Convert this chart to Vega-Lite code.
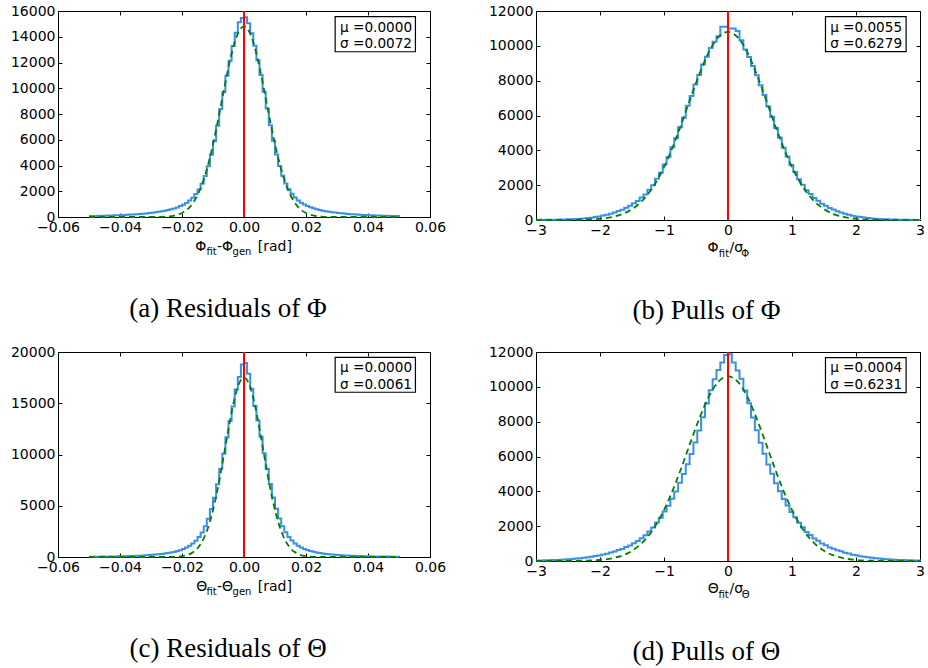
{
"$schema": "https://vega.github.io/schema/vega-lite/v6.json",
"background": "white",
"padding": {"left": 9, "top": 3, "right": 0, "bottom": 0},
"columns": 2,
"spacing": {"row": 19, "column": 40},
"datasets": {
"ha": [{"x":-0.050,"n":70},{"x":-0.049,"n":76},{"x":-0.048,"n":81},{"x":-0.047,"n":88},{"x":-0.046,"n":95},{"x":-0.045,"n":101},{"x":-0.044,"n":110},{"x":-0.043,"n":118},{"x":-0.042,"n":127},{"x":-0.041,"n":137},{"x":-0.040,"n":148},{"x":-0.039,"n":160},{"x":-0.038,"n":172},{"x":-0.037,"n":187},{"x":-0.036,"n":202},{"x":-0.035,"n":219},{"x":-0.034,"n":236},{"x":-0.033,"n":258},{"x":-0.032,"n":281},{"x":-0.031,"n":306},{"x":-0.030,"n":335},{"x":-0.029,"n":366},{"x":-0.028,"n":400},{"x":-0.027,"n":440},{"x":-0.026,"n":486},{"x":-0.025,"n":535},{"x":-0.024,"n":596},{"x":-0.023,"n":665},{"x":-0.022,"n":745},{"x":-0.021,"n":845},{"x":-0.020,"n":955},{"x":-0.019,"n":1095},{"x":-0.018,"n":1275},{"x":-0.017,"n":1490},{"x":-0.016,"n":1790},{"x":-0.015,"n":2140},{"x":-0.014,"n":2590},{"x":-0.013,"n":3190},{"x":-0.012,"n":3940},{"x":-0.011,"n":4840},{"x":-0.010,"n":5880},{"x":-0.009,"n":7080},{"x":-0.008,"n":8380},{"x":-0.007,"n":9680},{"x":-0.006,"n":10980},{"x":-0.005,"n":12130},{"x":-0.004,"n":13280},{"x":-0.003,"n":14320},{"x":-0.002,"n":15120},{"x":-0.001,"n":15450},{"x":0.000,"n":15520},{"x":0.001,"n":15050},{"x":0.002,"n":14280},{"x":0.003,"n":13310},{"x":0.004,"n":12170},{"x":0.005,"n":11020},{"x":0.006,"n":9720},{"x":0.007,"n":8420},{"x":0.008,"n":7120},{"x":0.009,"n":5920},{"x":0.010,"n":4860},{"x":0.011,"n":3960},{"x":0.012,"n":3210},{"x":0.013,"n":2610},{"x":0.014,"n":2160},{"x":0.015,"n":1810},{"x":0.016,"n":1510},{"x":0.017,"n":1290},{"x":0.018,"n":1110},{"x":0.019,"n":965},{"x":0.020,"n":855},{"x":0.021,"n":755},{"x":0.022,"n":675},{"x":0.023,"n":605},{"x":0.024,"n":545},{"x":0.025,"n":494},{"x":0.026,"n":448},{"x":0.027,"n":408},{"x":0.028,"n":373},{"x":0.029,"n":342},{"x":0.030,"n":312},{"x":0.031,"n":287},{"x":0.032,"n":263},{"x":0.033,"n":242},{"x":0.034,"n":223},{"x":0.035,"n":206},{"x":0.036,"n":191},{"x":0.037,"n":176},{"x":0.038,"n":163},{"x":0.039,"n":151},{"x":0.040,"n":140},{"x":0.041,"n":130},{"x":0.042,"n":121},{"x":0.043,"n":112},{"x":0.044,"n":104},{"x":0.045,"n":97},{"x":0.046,"n":90},{"x":0.047,"n":84},{"x":0.048,"n":78},{"x":0.049,"n":73},{"x":0.050,"n":0}],
"ga": [{"x":-0.05,"g":0},{"x":-0.03,"g":2.5},{"x":-0.0275,"g":10},{"x":-0.025,"g":36},{"x":-0.0225,"g":112},{"x":-0.02,"g":312},{"x":-0.01875,"g":498},{"x":-0.0175,"g":772},{"x":-0.01625,"g":1159},{"x":-0.015,"g":1690},{"x":-0.01375,"g":2390},{"x":-0.0125,"g":3278},{"x":-0.01125,"g":4366},{"x":-0.01,"g":5642},{"x":-0.00875,"g":7072},{"x":-0.0075,"g":8604},{"x":-0.00625,"g":10154},{"x":-0.005,"g":11630},{"x":-0.00375,"g":12923},{"x":-0.0025,"g":13934},{"x":-0.00125,"g":14579},{"x":0,"g":14800},{"x":0.00125,"g":14579},{"x":0.0025,"g":13934},{"x":0.00375,"g":12923},{"x":0.005,"g":11630},{"x":0.00625,"g":10154},{"x":0.0075,"g":8604},{"x":0.00875,"g":7072},{"x":0.01,"g":5642},{"x":0.01125,"g":4366},{"x":0.0125,"g":3278},{"x":0.01375,"g":2390},{"x":0.015,"g":1690},{"x":0.01625,"g":1159},{"x":0.0175,"g":772},{"x":0.01875,"g":498},{"x":0.02,"g":312},{"x":0.0225,"g":112},{"x":0.025,"g":36},{"x":0.0275,"g":10},{"x":0.03,"g":2.5},{"x":0.05,"g":0}],
"hb": [{"x":-3.00,"n":6},{"x":-2.94,"n":8},{"x":-2.88,"n":9},{"x":-2.82,"n":12},{"x":-2.76,"n":15},{"x":-2.70,"n":20},{"x":-2.64,"n":24},{"x":-2.58,"n":31},{"x":-2.52,"n":38},{"x":-2.46,"n":49},{"x":-2.40,"n":59},{"x":-2.34,"n":75},{"x":-2.28,"n":90},{"x":-2.22,"n":113},{"x":-2.16,"n":136},{"x":-2.10,"n":170},{"x":-2.04,"n":203},{"x":-1.98,"n":252},{"x":-1.92,"n":297},{"x":-1.86,"n":364},{"x":-1.80,"n":426},{"x":-1.74,"n":515},{"x":-1.68,"n":594},{"x":-1.62,"n":710},{"x":-1.56,"n":812},{"x":-1.50,"n":962},{"x":-1.44,"n":1090},{"x":-1.38,"n":1285},{"x":-1.32,"n":1465},{"x":-1.26,"n":1735},{"x":-1.20,"n":1995},{"x":-1.14,"n":2370},{"x":-1.08,"n":2720},{"x":-1.02,"n":3190},{"x":-0.96,"n":3620},{"x":-0.90,"n":4180},{"x":-0.84,"n":4700},{"x":-0.78,"n":5330},{"x":-0.72,"n":5870},{"x":-0.66,"n":6560},{"x":-0.60,"n":7120},{"x":-0.54,"n":7780},{"x":-0.48,"n":8330},{"x":-0.42,"n":8930},{"x":-0.36,"n":9380},{"x":-0.30,"n":9880},{"x":-0.24,"n":10230},{"x":-0.18,"n":10550},{"x":-0.12,"n":11100},{"x":-0.06,"n":11100},{"x":0.00,"n":11000},{"x":0.06,"n":10990},{"x":0.12,"n":10850},{"x":0.18,"n":10320},{"x":0.24,"n":9790},{"x":0.30,"n":9360},{"x":0.36,"n":8840},{"x":0.42,"n":8310},{"x":0.48,"n":7730},{"x":0.54,"n":7170},{"x":0.60,"n":6510},{"x":0.66,"n":5920},{"x":0.72,"n":5280},{"x":0.78,"n":4740},{"x":0.84,"n":4150},{"x":0.90,"n":3650},{"x":0.96,"n":3160},{"x":1.02,"n":2750},{"x":1.08,"n":2340},{"x":1.14,"n":2020},{"x":1.20,"n":1710},{"x":1.26,"n":1490},{"x":1.32,"n":1260},{"x":1.38,"n":1110},{"x":1.44,"n":940},{"x":1.50,"n":825},{"x":1.56,"n":695},{"x":1.62,"n":605},{"x":1.68,"n":505},{"x":1.74,"n":435},{"x":1.80,"n":355},{"x":1.86,"n":302},{"x":1.92,"n":248},{"x":1.98,"n":207},{"x":2.04,"n":166},{"x":2.10,"n":139},{"x":2.16,"n":110},{"x":2.22,"n":92},{"x":2.28,"n":73},{"x":2.34,"n":61},{"x":2.40,"n":47},{"x":2.46,"n":40},{"x":2.52,"n":30},{"x":2.58,"n":26},{"x":2.64,"n":19},{"x":2.70,"n":16},{"x":2.76,"n":12},{"x":2.82,"n":10},{"x":2.88,"n":7},{"x":2.94,"n":6},{"x":3.00,"n":0}],
"gb": [{"x":-3,"g":0},{"x":-2.4,"g":7},{"x":-2.25,"g":18},{"x":-2.1,"g":40},{"x":-1.95,"g":87},{"x":-1.8,"g":177},{"x":-1.65,"g":342},{"x":-1.5,"g":623},{"x":-1.35,"g":1071},{"x":-1.2,"g":1739},{"x":-1.05,"g":2668},{"x":-0.9,"g":3866},{"x":-0.75,"g":5292},{"x":-0.6,"g":6842},{"x":-0.45,"g":8354},{"x":-0.3,"g":9635},{"x":-0.15,"g":10496},{"x":0,"g":10800},{"x":0.15,"g":10496},{"x":0.3,"g":9635},{"x":0.45,"g":8354},{"x":0.6,"g":6842},{"x":0.75,"g":5292},{"x":0.9,"g":3866},{"x":1.05,"g":2668},{"x":1.2,"g":1739},{"x":1.35,"g":1071},{"x":1.5,"g":623},{"x":1.65,"g":342},{"x":1.8,"g":177},{"x":1.95,"g":87},{"x":2.1,"g":40},{"x":2.25,"g":18},{"x":2.4,"g":7},{"x":3,"g":0}],
"hc": [{"x":-0.050,"n":26},{"x":-0.049,"n":29},{"x":-0.048,"n":33},{"x":-0.047,"n":35},{"x":-0.046,"n":40},{"x":-0.045,"n":43},{"x":-0.044,"n":48},{"x":-0.043,"n":52},{"x":-0.042,"n":58},{"x":-0.041,"n":64},{"x":-0.040,"n":71},{"x":-0.039,"n":79},{"x":-0.038,"n":87},{"x":-0.037,"n":97},{"x":-0.036,"n":108},{"x":-0.035,"n":120},{"x":-0.034,"n":133},{"x":-0.033,"n":149},{"x":-0.032,"n":166},{"x":-0.031,"n":186},{"x":-0.030,"n":208},{"x":-0.029,"n":233},{"x":-0.028,"n":262},{"x":-0.027,"n":297},{"x":-0.026,"n":337},{"x":-0.025,"n":382},{"x":-0.024,"n":436},{"x":-0.023,"n":500},{"x":-0.022,"n":575},{"x":-0.021,"n":665},{"x":-0.020,"n":775},{"x":-0.019,"n":915},{"x":-0.018,"n":1095},{"x":-0.017,"n":1315},{"x":-0.016,"n":1590},{"x":-0.015,"n":1940},{"x":-0.014,"n":2390},{"x":-0.013,"n":2990},{"x":-0.012,"n":3740},{"x":-0.011,"n":4690},{"x":-0.010,"n":5790},{"x":-0.009,"n":7090},{"x":-0.008,"n":8590},{"x":-0.007,"n":10080},{"x":-0.006,"n":11680},{"x":-0.005,"n":13280},{"x":-0.004,"n":14680},{"x":-0.003,"n":16350},{"x":-0.002,"n":17550},{"x":-0.001,"n":18780},{"x":0.000,"n":18920},{"x":0.001,"n":17880},{"x":0.002,"n":16420},{"x":0.003,"n":14720},{"x":0.004,"n":13320},{"x":0.005,"n":11720},{"x":0.006,"n":10120},{"x":0.007,"n":8620},{"x":0.008,"n":7110},{"x":0.009,"n":5810},{"x":0.010,"n":4710},{"x":0.011,"n":3760},{"x":0.012,"n":3010},{"x":0.013,"n":2410},{"x":0.014,"n":1960},{"x":0.015,"n":1610},{"x":0.016,"n":1325},{"x":0.017,"n":1105},{"x":0.018,"n":925},{"x":0.019,"n":785},{"x":0.020,"n":672},{"x":0.021,"n":582},{"x":0.022,"n":507},{"x":0.023,"n":442},{"x":0.024,"n":387},{"x":0.025,"n":342},{"x":0.026,"n":302},{"x":0.027,"n":266},{"x":0.028,"n":236},{"x":0.029,"n":211},{"x":0.030,"n":189},{"x":0.031,"n":169},{"x":0.032,"n":151},{"x":0.033,"n":136},{"x":0.034,"n":122},{"x":0.035,"n":110},{"x":0.036,"n":99},{"x":0.037,"n":89},{"x":0.038,"n":81},{"x":0.039,"n":73},{"x":0.040,"n":66},{"x":0.041,"n":60},{"x":0.042,"n":54},{"x":0.043,"n":49},{"x":0.044,"n":45},{"x":0.045,"n":41},{"x":0.046,"n":37},{"x":0.047,"n":34},{"x":0.048,"n":31},{"x":0.049,"n":28},{"x":0.050,"n":0}],
"gc": [{"x":-0.05,"g":0},{"x":-0.025,"g":4},{"x":-0.0225,"g":20},{"x":-0.02,"g":81},{"x":-0.0175,"g":286},{"x":-0.01625,"g":503},{"x":-0.015,"g":851},{"x":-0.01375,"g":1379},{"x":-0.0125,"g":2144},{"x":-0.01125,"g":3194},{"x":-0.01,"g":4566},{"x":-0.00875,"g":6254},{"x":-0.0075,"g":8220},{"x":-0.00625,"g":10353},{"x":-0.005,"g":12507},{"x":-0.00375,"g":14487},{"x":-0.0025,"g":16090},{"x":-0.00125,"g":17136},{"x":0,"g":17500},{"x":0.00125,"g":17136},{"x":0.0025,"g":16090},{"x":0.00375,"g":14487},{"x":0.005,"g":12507},{"x":0.00625,"g":10353},{"x":0.0075,"g":8220},{"x":0.00875,"g":6254},{"x":0.01,"g":4566},{"x":0.01125,"g":3194},{"x":0.0125,"g":2144},{"x":0.01375,"g":1379},{"x":0.015,"g":851},{"x":0.01625,"g":503},{"x":0.0175,"g":286},{"x":0.02,"g":81},{"x":0.0225,"g":20},{"x":0.025,"g":4},{"x":0.05,"g":0}],
"hd": [{"x":-3.00,"n":28},{"x":-2.94,"n":34},{"x":-2.88,"n":38},{"x":-2.82,"n":46},{"x":-2.76,"n":53},{"x":-2.70,"n":64},{"x":-2.64,"n":73},{"x":-2.58,"n":88},{"x":-2.52,"n":101},{"x":-2.46,"n":121},{"x":-2.40,"n":139},{"x":-2.34,"n":165},{"x":-2.28,"n":185},{"x":-2.22,"n":216},{"x":-2.16,"n":243},{"x":-2.10,"n":284},{"x":-2.04,"n":320},{"x":-1.98,"n":374},{"x":-1.92,"n":422},{"x":-1.86,"n":490},{"x":-1.80,"n":546},{"x":-1.74,"n":626},{"x":-1.68,"n":696},{"x":-1.62,"n":798},{"x":-1.56,"n":890},{"x":-1.50,"n":1020},{"x":-1.44,"n":1145},{"x":-1.38,"n":1310},{"x":-1.32,"n":1475},{"x":-1.26,"n":1690},{"x":-1.20,"n":1920},{"x":-1.14,"n":2210},{"x":-1.08,"n":2490},{"x":-1.02,"n":2840},{"x":-0.96,"n":3170},{"x":-0.90,"n":3580},{"x":-0.84,"n":3990},{"x":-0.78,"n":4490},{"x":-0.72,"n":4990},{"x":-0.66,"n":5560},{"x":-0.60,"n":6140},{"x":-0.54,"n":6810},{"x":-0.48,"n":7490},{"x":-0.42,"n":8260},{"x":-0.36,"n":9040},{"x":-0.30,"n":9810},{"x":-0.24,"n":10440},{"x":-0.18,"n":10960},{"x":-0.12,"n":11390},{"x":-0.06,"n":11830},{"x":0.00,"n":11870},{"x":0.06,"n":11400},{"x":0.12,"n":10940},{"x":0.18,"n":10460},{"x":0.24,"n":9790},{"x":0.30,"n":9060},{"x":0.36,"n":8240},{"x":0.42,"n":7510},{"x":0.48,"n":6790},{"x":0.54,"n":6160},{"x":0.60,"n":5540},{"x":0.66,"n":5010},{"x":0.72,"n":4470},{"x":0.78,"n":4010},{"x":0.84,"n":3560},{"x":0.90,"n":3190},{"x":0.96,"n":2820},{"x":1.02,"n":2510},{"x":1.08,"n":2190},{"x":1.14,"n":1940},{"x":1.20,"n":1670},{"x":1.26,"n":1490},{"x":1.32,"n":1290},{"x":1.38,"n":1160},{"x":1.44,"n":1000},{"x":1.50,"n":900},{"x":1.56,"n":782},{"x":1.62,"n":705},{"x":1.68,"n":614},{"x":1.74,"n":554},{"x":1.80,"n":480},{"x":1.86,"n":428},{"x":1.92,"n":366},{"x":1.98,"n":324},{"x":2.04,"n":278},{"x":2.10,"n":247},{"x":2.16,"n":212},{"x":2.22,"n":189},{"x":2.28,"n":161},{"x":2.34,"n":141},{"x":2.40,"n":118},{"x":2.46,"n":103},{"x":2.52,"n":86},{"x":2.58,"n":75},{"x":2.64,"n":62},{"x":2.70,"n":55},{"x":2.76,"n":45},{"x":2.82,"n":40},{"x":2.88,"n":33},{"x":2.94,"n":30},{"x":3.00,"n":0}],
"gd": [{"x":-3,"g":0},{"x":-2.4,"g":6},{"x":-2.25,"g":16},{"x":-2.1,"g":36},{"x":-1.95,"g":79},{"x":-1.8,"g":163},{"x":-1.65,"g":318},{"x":-1.5,"g":585},{"x":-1.35,"g":1014},{"x":-1.2,"g":1659},{"x":-1.05,"g":2562},{"x":-0.9,"g":3735},{"x":-0.75,"g":5137},{"x":-0.6,"g":6667},{"x":-0.45,"g":8166},{"x":-0.3,"g":9441},{"x":-0.15,"g":10297},{"x":0,"g":10600},{"x":0.15,"g":10297},{"x":0.3,"g":9441},{"x":0.45,"g":8166},{"x":0.6,"g":6667},{"x":0.75,"g":5137},{"x":0.9,"g":3735},{"x":1.05,"g":2562},{"x":1.2,"g":1659},{"x":1.35,"g":1014},{"x":1.5,"g":585},{"x":1.65,"g":318},{"x":1.8,"g":163},{"x":1.95,"g":79},{"x":2.1,"g":36},{"x":2.25,"g":16},{"x":2.4,"g":6},{"x":3,"g":0}]
},
"concat": [
{
"width": 372, "height": 206,
"title": {"text": "(a) Residuals of Φ", "orient": "bottom", "anchor": "middle", "frame": "bounds", "baseline": "alphabetic", "offset": 60},
"layer": [
{"data": {"name": "ha"}, "mark": {"type": "line", "interpolate": "step-after", "color": "#3a8fe6", "strokeWidth": 2},
 "encoding": {
  "x": {"field": "x", "type": "quantitative", "scale": {"domain": [-0.06, 0.06], "nice": false, "zero": false}, "axis": {"orient": "bottom", "values": [-0.06, -0.04, -0.02, 0, 0.02, 0.04, 0.06], "format": ".2f", "title": null}},
  "y": {"field": "n", "type": "quantitative", "scale": {"domain": [0, 16000], "nice": false}, "axis": {"orient": "left", "values": [0, 2000, 4000, 6000, 8000, 10000, 12000, 14000, 16000], "format": "d", "title": null}}}},
{"data": {"name": "ga"}, "mark": {"type": "line", "interpolate": "monotone", "color": "#008000", "strokeWidth": 1.8, "strokeDash": [6, 4]},
 "encoding": {
  "x": {"field": "x", "type": "quantitative", "scale": {"domain": [-0.06, 0.06], "nice": false, "zero": false}, "axis": {"orient": "top", "values": [-0.06, -0.04, -0.02, 0, 0.02, 0.04, 0.06], "labels": false, "title": null}},
  "y": {"field": "g", "type": "quantitative", "scale": {"domain": [0, 16000], "nice": false}, "axis": {"orient": "right", "values": [0, 2000, 4000, 6000, 8000, 10000, 12000, 14000, 16000], "labels": false, "title": null}}}},
{"data": {"values": [{}]}, "mark": {"type": "rule", "color": "#ff0000", "strokeWidth": 2},
 "encoding": {"x": {"datum": 0, "type": "quantitative", "scale": {"domain": [-0.06, 0.06], "nice": false, "zero": false}, "axis": null}}},
{"data": {"values": [{}]}, "mark": {"type": "rect", "fill": "#ffffff", "stroke": "#000000", "strokeWidth": 1.2},
 "encoding": {
  "x": {"datum": 0.0294, "type": "quantitative", "scale": {"domain": [-0.06, 0.06], "nice": false, "zero": false}, "axis": null}, "x2": {"datum": 0.0553},
  "y": {"datum": 15557, "type": "quantitative", "scale": {"domain": [0, 16000], "nice": false}, "axis": null}, "y2": {"datum": 12834}}},
{"data": {"values": [{"t": "μ =0.0000\nσ =0.0072"}]}, "mark": {"type": "text", "align": "left", "baseline": "middle", "lineBreak": "\n", "lineHeight": 16.6, "fontSize": 13.6, "color": "#000000"},
 "encoding": {
  "x": {"datum": 0.031, "type": "quantitative", "scale": {"domain": [-0.06, 0.06], "nice": false, "zero": false}, "axis": null},
  "y": {"datum": 14701, "type": "quantitative", "scale": {"domain": [0, 16000], "nice": false}, "axis": null},
  "text": {"field": "t"}}},
{"data": {"values": [{"t": "Φ", "x": -0.0157}, {"t": "-Φ", "x": -0.0087}, {"t": "[rad]", "x": 0.00446}]}, "mark": {"type": "text", "align": "left", "baseline": "alphabetic", "fontSize": 14, "dy": 34, "color": "#000000"},
 "encoding": {
  "x": {"field": "x", "type": "quantitative", "scale": {"domain": [-0.06, 0.06], "nice": false, "zero": false}, "axis": null},
  "y": {"datum": 0, "type": "quantitative", "scale": {"domain": [0, 16000], "nice": false}, "axis": null},
  "text": {"field": "t"}}},
{"data": {"values": [{"t": "fit", "x": -0.0121}, {"t": "gen", "x": -0.0037}]}, "mark": {"type": "text", "align": "left", "baseline": "alphabetic", "fontSize": 10, "dy": 38, "color": "#000000"},
 "encoding": {
  "x": {"field": "x", "type": "quantitative", "scale": {"domain": [-0.06, 0.06], "nice": false, "zero": false}, "axis": null},
  "y": {"datum": 0, "type": "quantitative", "scale": {"domain": [0, 16000], "nice": false}, "axis": null},
  "text": {"field": "t"}}}
],
"resolve": {"axis": {"x": "independent", "y": "independent"}}
},
{
"width": 384, "height": 209,
"title": {"text": "(b) Pulls of Φ", "orient": "bottom", "anchor": "middle", "frame": "bounds", "baseline": "alphabetic", "offset": 60},
"layer": [
{"data": {"name": "hb"}, "mark": {"type": "line", "interpolate": "step-after", "color": "#3a8fe6", "strokeWidth": 2},
 "encoding": {
  "x": {"field": "x", "type": "quantitative", "scale": {"domain": [-3, 3], "nice": false, "zero": false}, "axis": {"orient": "bottom", "values": [-3, -2, -1, 0, 1, 2, 3], "format": "d", "title": null}},
  "y": {"field": "n", "type": "quantitative", "scale": {"domain": [0, 12000], "nice": false}, "axis": {"orient": "left", "values": [0, 2000, 4000, 6000, 8000, 10000, 12000], "format": "d", "title": null}}}},
{"data": {"name": "gb"}, "mark": {"type": "line", "interpolate": "monotone", "color": "#008000", "strokeWidth": 1.8, "strokeDash": [6, 4]},
 "encoding": {
  "x": {"field": "x", "type": "quantitative", "scale": {"domain": [-3, 3], "nice": false, "zero": false}, "axis": {"orient": "top", "values": [-3, -2, -1, 0, 1, 2, 3], "labels": false, "title": null}},
  "y": {"field": "g", "type": "quantitative", "scale": {"domain": [0, 12000], "nice": false}, "axis": {"orient": "right", "values": [0, 2000, 4000, 6000, 8000, 10000, 12000], "labels": false, "title": null}}}},
{"data": {"values": [{}]}, "mark": {"type": "rule", "color": "#ff0000", "strokeWidth": 2},
 "encoding": {"x": {"datum": 0, "type": "quantitative", "scale": {"domain": [-3, 3], "nice": false, "zero": false}, "axis": null}}},
{"data": {"values": [{}]}, "mark": {"type": "rect", "fill": "#ffffff", "stroke": "#000000", "strokeWidth": 1.2},
 "encoding": {
  "x": {"datum": 1.523, "type": "quantitative", "scale": {"domain": [-3, 3], "nice": false, "zero": false}, "axis": null}, "x2": {"datum": 2.783},
  "y": {"datum": 11673, "type": "quantitative", "scale": {"domain": [0, 12000], "nice": false}, "axis": null}, "y2": {"datum": 9667}}},
{"data": {"values": [{"t": "μ =0.0055\nσ =0.6279"}]}, "mark": {"type": "text", "align": "left", "baseline": "middle", "lineBreak": "\n", "lineHeight": 16.6, "fontSize": 13.6, "color": "#000000"},
 "encoding": {
  "x": {"datum": 1.596, "type": "quantitative", "scale": {"domain": [-3, 3], "nice": false, "zero": false}, "axis": null},
  "y": {"datum": 11043, "type": "quantitative", "scale": {"domain": [0, 12000], "nice": false}, "axis": null},
  "text": {"field": "t"}}},
{"data": {"values": [{"t": "Φ", "x": -0.319}, {"t": "/σ", "x": 0.024}]}, "mark": {"type": "text", "align": "left", "baseline": "alphabetic", "fontSize": 14, "dy": 32, "color": "#000000"},
 "encoding": {
  "x": {"field": "x", "type": "quantitative", "scale": {"domain": [-3, 3], "nice": false, "zero": false}, "axis": null},
  "y": {"datum": 0, "type": "quantitative", "scale": {"domain": [0, 12000], "nice": false}, "axis": null},
  "text": {"field": "t"}}},
{"data": {"values": [{"t": "fit", "x": -0.143}, {"t": "Φ", "x": 0.207}]}, "mark": {"type": "text", "align": "left", "baseline": "alphabetic", "fontSize": 10, "dy": 37, "color": "#000000"},
 "encoding": {
  "x": {"field": "x", "type": "quantitative", "scale": {"domain": [-3, 3], "nice": false, "zero": false}, "axis": null},
  "y": {"datum": 0, "type": "quantitative", "scale": {"domain": [0, 12000], "nice": false}, "axis": null},
  "text": {"field": "t"}}}
],
"resolve": {"axis": {"x": "independent", "y": "independent"}}
},
{
"width": 372, "height": 205,
"title": {"text": "(c) Residuals of Θ", "orient": "bottom", "anchor": "middle", "frame": "bounds", "baseline": "alphabetic", "offset": 60},
"layer": [
{"data": {"name": "hc"}, "mark": {"type": "line", "interpolate": "step-after", "color": "#3a8fe6", "strokeWidth": 2},
 "encoding": {
  "x": {"field": "x", "type": "quantitative", "scale": {"domain": [-0.06, 0.06], "nice": false, "zero": false}, "axis": {"orient": "bottom", "values": [-0.06, -0.04, -0.02, 0, 0.02, 0.04, 0.06], "format": ".2f", "title": null}},
  "y": {"field": "n", "type": "quantitative", "scale": {"domain": [0, 20000], "nice": false}, "axis": {"orient": "left", "values": [0, 5000, 10000, 15000, 20000], "format": "d", "title": null}}}},
{"data": {"name": "gc"}, "mark": {"type": "line", "interpolate": "monotone", "color": "#008000", "strokeWidth": 1.8, "strokeDash": [6, 4]},
 "encoding": {
  "x": {"field": "x", "type": "quantitative", "scale": {"domain": [-0.06, 0.06], "nice": false, "zero": false}, "axis": {"orient": "top", "values": [-0.06, -0.04, -0.02, 0, 0.02, 0.04, 0.06], "labels": false, "title": null}},
  "y": {"field": "g", "type": "quantitative", "scale": {"domain": [0, 20000], "nice": false}, "axis": {"orient": "right", "values": [0, 5000, 10000, 15000, 20000], "labels": false, "title": null}}}},
{"data": {"values": [{}]}, "mark": {"type": "rule", "color": "#ff0000", "strokeWidth": 2},
 "encoding": {"x": {"datum": 0, "type": "quantitative", "scale": {"domain": [-0.06, 0.06], "nice": false, "zero": false}, "axis": null}}},
{"data": {"values": [{}]}, "mark": {"type": "rect", "fill": "#ffffff", "stroke": "#000000", "strokeWidth": 1.2},
 "encoding": {
  "x": {"datum": 0.0294, "type": "quantitative", "scale": {"domain": [-0.06, 0.06], "nice": false, "zero": false}, "axis": null}, "x2": {"datum": 0.0553},
  "y": {"datum": 19484, "type": "quantitative", "scale": {"domain": [0, 20000], "nice": false}, "axis": null}, "y2": {"datum": 16074}}},
{"data": {"values": [{"t": "μ =0.0000\nσ =0.0061"}]}, "mark": {"type": "text", "align": "left", "baseline": "middle", "lineBreak": "\n", "lineHeight": 16.6, "fontSize": 13.6, "color": "#000000"},
 "encoding": {
  "x": {"datum": 0.031, "type": "quantitative", "scale": {"domain": [-0.06, 0.06], "nice": false, "zero": false}, "axis": null},
  "y": {"datum": 18412, "type": "quantitative", "scale": {"domain": [0, 20000], "nice": false}, "axis": null},
  "text": {"field": "t"}}},
{"data": {"values": [{"t": "Θ", "x": -0.0154}, {"t": "-Θ", "x": -0.0087}, {"t": "[rad]", "x": 0.00446}]}, "mark": {"type": "text", "align": "left", "baseline": "alphabetic", "fontSize": 14, "dy": 34, "color": "#000000"},
 "encoding": {
  "x": {"field": "x", "type": "quantitative", "scale": {"domain": [-0.06, 0.06], "nice": false, "zero": false}, "axis": null},
  "y": {"datum": 0, "type": "quantitative", "scale": {"domain": [0, 20000], "nice": false}, "axis": null},
  "text": {"field": "t"}}},
{"data": {"values": [{"t": "fit", "x": -0.0121}, {"t": "gen", "x": -0.0037}]}, "mark": {"type": "text", "align": "left", "baseline": "alphabetic", "fontSize": 10, "dy": 38, "color": "#000000"},
 "encoding": {
  "x": {"field": "x", "type": "quantitative", "scale": {"domain": [-0.06, 0.06], "nice": false, "zero": false}, "axis": null},
  "y": {"datum": 0, "type": "quantitative", "scale": {"domain": [0, 20000], "nice": false}, "axis": null},
  "text": {"field": "t"}}}
],
"resolve": {"axis": {"x": "independent", "y": "independent"}}
},
{
"width": 384, "height": 209,
"title": {"text": "(d) Pulls of Θ", "orient": "bottom", "anchor": "middle", "frame": "bounds", "baseline": "alphabetic", "offset": 60},
"layer": [
{"data": {"name": "hd"}, "mark": {"type": "line", "interpolate": "step-after", "color": "#3a8fe6", "strokeWidth": 2},
 "encoding": {
  "x": {"field": "x", "type": "quantitative", "scale": {"domain": [-3, 3], "nice": false, "zero": false}, "axis": {"orient": "bottom", "values": [-3, -2, -1, 0, 1, 2, 3], "format": "d", "title": null}},
  "y": {"field": "n", "type": "quantitative", "scale": {"domain": [0, 12000], "nice": false}, "axis": {"orient": "left", "values": [0, 2000, 4000, 6000, 8000, 10000, 12000], "format": "d", "title": null}}}},
{"data": {"name": "gd"}, "mark": {"type": "line", "interpolate": "monotone", "color": "#008000", "strokeWidth": 1.8, "strokeDash": [6, 4]},
 "encoding": {
  "x": {"field": "x", "type": "quantitative", "scale": {"domain": [-3, 3], "nice": false, "zero": false}, "axis": {"orient": "top", "values": [-3, -2, -1, 0, 1, 2, 3], "labels": false, "title": null}},
  "y": {"field": "g", "type": "quantitative", "scale": {"domain": [0, 12000], "nice": false}, "axis": {"orient": "right", "values": [0, 2000, 4000, 6000, 8000, 10000, 12000], "labels": false, "title": null}}}},
{"data": {"values": [{}]}, "mark": {"type": "rule", "color": "#ff0000", "strokeWidth": 2},
 "encoding": {"x": {"datum": 0, "type": "quantitative", "scale": {"domain": [-3, 3], "nice": false, "zero": false}, "axis": null}}},
{"data": {"values": [{}]}, "mark": {"type": "rect", "fill": "#ffffff", "stroke": "#000000", "strokeWidth": 1.2},
 "encoding": {
  "x": {"datum": 1.523, "type": "quantitative", "scale": {"domain": [-3, 3], "nice": false, "zero": false}, "axis": null}, "x2": {"datum": 2.783},
  "y": {"datum": 11673, "type": "quantitative", "scale": {"domain": [0, 12000], "nice": false}, "axis": null}, "y2": {"datum": 9663}}},
{"data": {"values": [{"t": "μ =0.0004\nσ =0.6231"}]}, "mark": {"type": "text", "align": "left", "baseline": "middle", "lineBreak": "\n", "lineHeight": 16.6, "fontSize": 13.6, "color": "#000000"},
 "encoding": {
  "x": {"datum": 1.596, "type": "quantitative", "scale": {"domain": [-3, 3], "nice": false, "zero": false}, "axis": null},
  "y": {"datum": 11064, "type": "quantitative", "scale": {"domain": [0, 12000], "nice": false}, "axis": null},
  "text": {"field": "t"}}},
{"data": {"values": [{"t": "Θ", "x": -0.315}, {"t": "/σ", "x": 0.024}]}, "mark": {"type": "text", "align": "left", "baseline": "alphabetic", "fontSize": 14, "dy": 32, "color": "#000000"},
 "encoding": {
  "x": {"field": "x", "type": "quantitative", "scale": {"domain": [-3, 3], "nice": false, "zero": false}, "axis": null},
  "y": {"datum": 0, "type": "quantitative", "scale": {"domain": [0, 12000], "nice": false}, "axis": null},
  "text": {"field": "t"}}},
{"data": {"values": [{"t": "fit", "x": -0.148}, {"t": "Θ", "x": 0.216}]}, "mark": {"type": "text", "align": "left", "baseline": "alphabetic", "fontSize": 10, "dy": 37, "color": "#000000"},
 "encoding": {
  "x": {"field": "x", "type": "quantitative", "scale": {"domain": [-3, 3], "nice": false, "zero": false}, "axis": null},
  "y": {"datum": 0, "type": "quantitative", "scale": {"domain": [0, 12000], "nice": false}, "axis": null},
  "text": {"field": "t"}}}
],
"resolve": {"axis": {"x": "independent", "y": "independent"}}
}
],
"config": {
 "font": "DejaVu Sans",
 "view": {"stroke": "#000000", "strokeWidth": 1},
 "axis": {"grid": false, "domain": false, "tickColor": "#000000", "tickSize": -4, "tickWidth": 1, "labelFont": "DejaVu Sans", "labelFontSize": 14, "labelColor": "#000000", "labelFlush": false, "labelOverlap": false, "labelPadding": 7},
 "text": {"font": "DejaVu Sans"},
 "title": {"font": "Liberation Serif", "fontSize": 27, "fontWeight": "normal", "color": "#000000"}
}
}
